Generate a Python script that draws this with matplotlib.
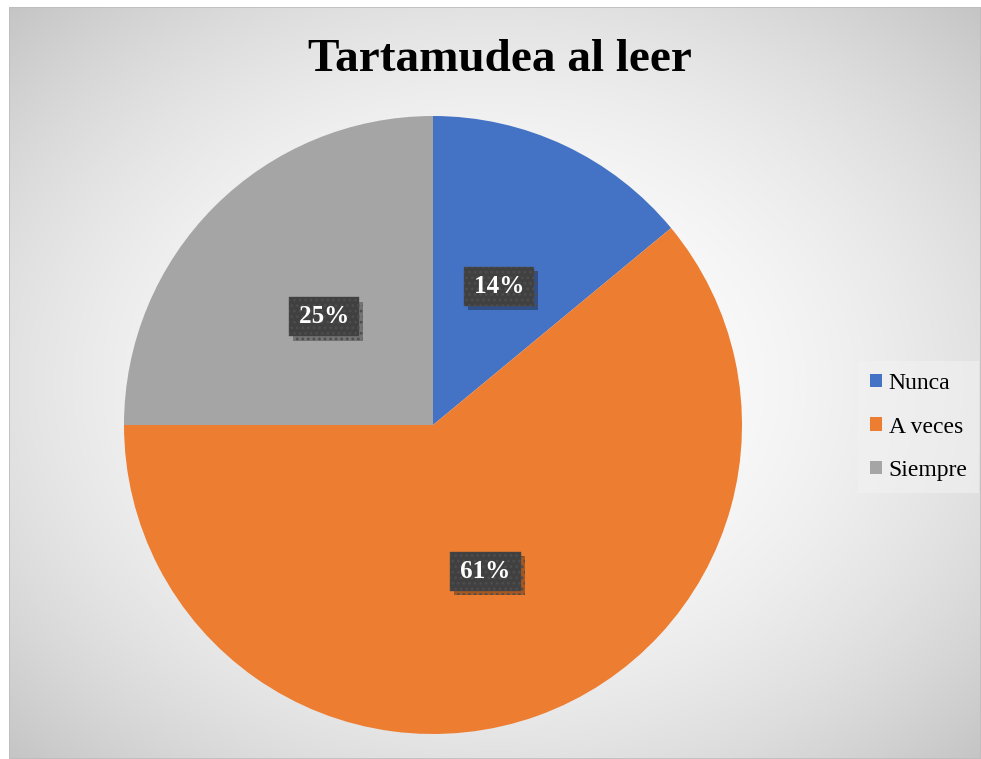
import numpy as np
import matplotlib
matplotlib.use("Agg")
import matplotlib.pyplot as plt
from matplotlib.patches import Rectangle
import matplotlib.patheffects as pe

categories = ["Nunca", "A veces", "Siempre"]
values = [14, 61, 25]
colors = ["#4472C4", "#ED7D31", "#A5A5A5"]
title = "Tartamudea al leer"

plt.rcParams["hatch.linewidth"] = 1.2

W, H = 981, 759
fig = plt.figure(figsize=(W / 100, H / 100), dpi=100)
fig.patch.set_facecolor("white")

# background gradient panel
x0, y0 = 9, 7  # top-left pixel of panel
bg = fig.add_axes([x0 / W, 0, 1 - x0 / W, 1 - y0 / H])
bg.set_axis_off()
nx, ny = 400, 320
xx, yy = np.meshgrid(np.linspace(0, 1, nx), np.linspace(0, 1, ny))
d2 = ((xx - 0.5) / 0.5) ** 2 + ((yy - 0.5) / 0.5) ** 2
g = np.clip(255 - 29 * d2, 0, 255) / 255.0
img = np.dstack([g, g, g])
bg.imshow(img, extent=[0, 1, 0, 1], aspect="auto", origin="lower", interpolation="bilinear")
bg.add_patch(Rectangle((0, 0), 1, 1, transform=bg.transAxes, fill=False,
                       edgecolor="#bdbdbd", linewidth=1.2))
bg.set_xlim(0, 1)
bg.set_ylim(0, 1)

# pie axes
cx, cy, r = 433, 425, 309
ax = fig.add_axes([(cx - r) / W, (H - cy - r) / H, 2 * r / W, 2 * r / H])
ax.set_facecolor("none")
wedges, texts = ax.pie(values, colors=colors, startangle=90, counterclock=False,
                       radius=1, wedgeprops=dict(linewidth=0))
ax.set_xlim(-1, 1)
ax.set_ylim(-1, 1)
ax.set_axis_off()

total = sum(values)
ang = 90.0
for v in values:
    frac = v / total
    mid = np.deg2rad(ang - frac * 180)
    ang -= frac * 360
    lx, ly = 0.5 * np.cos(mid), 0.5 * np.sin(mid) - 0.004
    lab = "\u200a" + f"{v}%" + "\u200a"
    t = ax.text(lx, ly, lab, ha="center", va="center", fontsize=18, fontweight="bold",
                family="Liberation Serif", color="white",
                bbox=dict(boxstyle="square,pad=0.32", facecolor="#404040",
                          edgecolor="#4d4d4d", linewidth=0.3, hatch="..."))
    t.get_bbox_patch().set_path_effects([
        pe.SimplePatchShadow(offset=(3, -3), shadow_rgbFace="#000000", alpha=0.3),
        pe.Normal()])

fig.text(500 / W, 1 - 60 / H, title, ha="center", va="center", fontsize=34,
         fontweight="bold", family="Liberation Serif", color="black")

handles = [Rectangle((0, 0), 1, 1, facecolor=c, edgecolor="none") for c in colors]
leg = fig.legend(handles, categories, loc="center left",
                 bbox_to_anchor=(858 / W, 1 - 427 / H),
                 prop=dict(family="Liberation Serif", size=17),
                 frameon=True, fancybox=False, handlelength=0.5, handleheight=0.5,
                 handletextpad=0.3, labelspacing=0.95, borderpad=0.5,
                 borderaxespad=0)
leg.get_frame().set_facecolor("#f2f2f2")
leg.get_frame().set_alpha(0.6)
leg.get_frame().set_edgecolor("none")

fig.savefig("out.png", dpi=100)
